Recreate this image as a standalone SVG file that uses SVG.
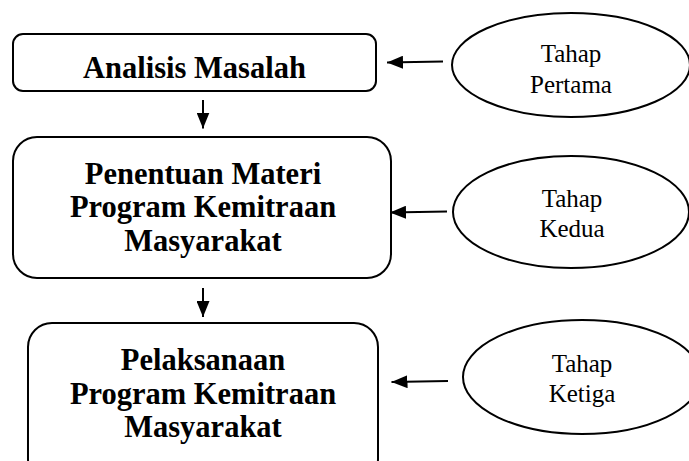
<svg xmlns="http://www.w3.org/2000/svg" width="689" height="461" viewBox="0 0 689 461">
  <defs>
    <marker id="ah" markerUnits="userSpaceOnUse" markerWidth="16" markerHeight="13" refX="16" refY="6.5" orient="auto">
      <path d="M0,0 L16,6.5 L0,13 Z" fill="#000"/>
    </marker>
    <style>
      .box { fill: #fff; stroke: #000; stroke-width: 2; }
      .ell { fill: #fff; stroke: #000; stroke-width: 2; }
      .bt { font-family: "Liberation Serif", "Times New Roman", serif; font-weight: bold; font-size: 30.5px; fill: #000; text-anchor: middle; }
      .et { font-family: "Liberation Serif", "Times New Roman", serif; font-size: 25px; fill: #000; text-anchor: middle; }
      .conn { stroke: #000; stroke-width: 2; fill: none; marker-end: url(#ah); }
    </style>
  </defs>
  <rect width="689" height="461" fill="#fff"/>

  <g id="node-analisis">
    <rect class="box" x="13" y="34" width="363" height="57" rx="10" ry="10"/>
    <text class="bt" x="194.5" y="77.5">Analisis Masalah</text>
  </g>

  <g id="node-penentuan">
    <rect class="box" x="13" y="137" width="378" height="141" rx="24" ry="24"/>
    <text class="bt" x="203" y="183.5">Penentuan Materi</text>
    <text class="bt" x="203" y="217">Program Kemitraan</text>
    <text class="bt" x="203" y="250.5">Masyarakat</text>
  </g>

  <g id="node-pelaksanaan">
    <rect class="box" x="28" y="323" width="350" height="160" rx="24" ry="24"/>
    <text class="bt" x="203" y="370">Pelaksanaan</text>
    <text class="bt" x="203" y="403.5">Program Kemitraan</text>
    <text class="bt" x="203" y="437">Masyarakat</text>
  </g>

  <g id="node-tahap1">
    <ellipse class="ell" cx="571" cy="65" rx="119" ry="52"/>
    <text class="et" x="571" y="62">Tahap</text>
    <text class="et" x="571" y="93">Pertama</text>
  </g>

  <g id="node-tahap2">
    <ellipse class="ell" cx="571" cy="212" rx="118" ry="56"/>
    <text class="et" x="572" y="207">Tahap</text>
    <text class="et" x="572" y="237">Kedua</text>
  </g>

  <g id="node-tahap3">
    <ellipse class="ell" cx="582" cy="377" rx="119" ry="57"/>
    <text class="et" x="582" y="372">Tahap</text>
    <text class="et" x="582" y="402">Ketiga</text>
  </g>

  <g id="connectors">
    <line class="conn" x1="203" y1="100" x2="203" y2="128.5"/>
    <line class="conn" x1="203" y1="288" x2="203" y2="317"/>
    <line class="conn" x1="443" y1="61.5" x2="387" y2="62.5"/>
    <line class="conn" x1="447" y1="211.5" x2="390" y2="212.5"/>
    <line class="conn" x1="448" y1="381" x2="391.5" y2="382"/>
  </g>
</svg>
